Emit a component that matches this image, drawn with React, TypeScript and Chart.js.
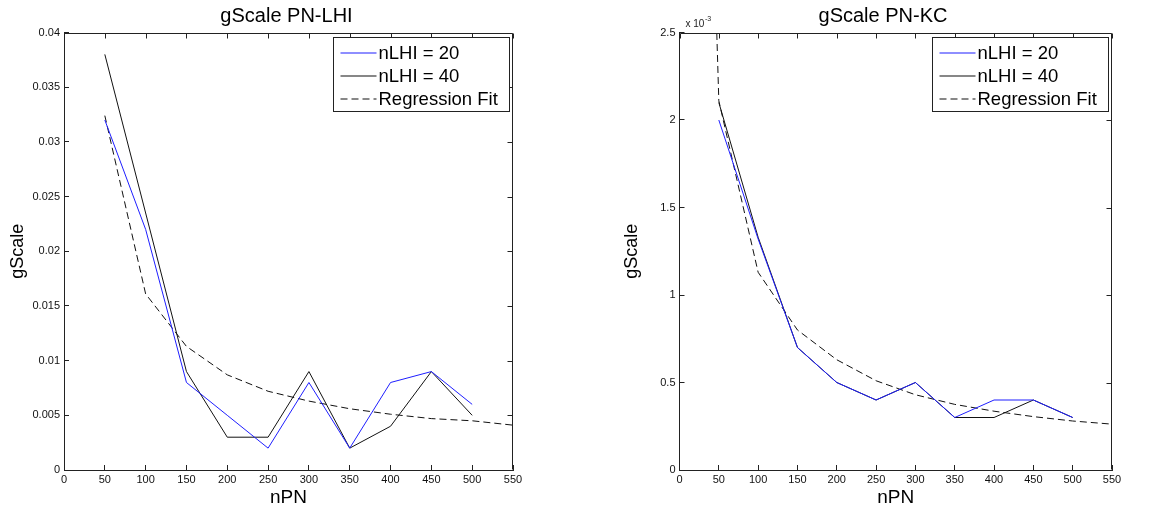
import React, { useEffect, useRef } from "react";
import { Chart, registerables } from "chart.js";

Chart.register(...registerables);

// ---- data ----
const nPN = [50, 100, 150, 200, 250, 300, 350, 400, 450, 500];
const fitNPN = [50, 100, 150, 200, 250, 300, 350, 400, 450, 500, 550];
const kcFitNPN = [47, 50, 100, 150, 200, 250, 300, 350, 400, 450, 500, 550];

// gScale PN-LHI
const lhiN20 = [0.032, 0.022, 0.008, 0.005, 0.002, 0.008, 0.002, 0.008, 0.009, 0.006];
const lhiN40 = [0.038, 0.0235, 0.009, 0.003, 0.003, 0.009, 0.002, 0.004, 0.009, 0.005];
const lhiFit = [0.0324, 0.0161, 0.0113, 0.0087, 0.0072, 0.0063, 0.0056, 0.0051, 0.0047, 0.0045, 0.0041];

// gScale PN-KC (values in units of 10^-3)
const kcN20 = [2.0, 1.32, 0.7, 0.5, 0.4, 0.5, 0.3, 0.4, 0.4, 0.3];
const kcN40 = [2.1, 1.33, 0.7, 0.5, 0.4, 0.5, 0.3, 0.3, 0.4, 0.3];
const kcFit = [2.56, 2.11, 1.13, 0.8, 0.63, 0.51, 0.43, 0.375, 0.336, 0.305, 0.28, 0.262];

const seriesLabels = ["nLHI = 20", "nLHI = 40", "Regression Fit"];
const titles = ["gScale PN-LHI", "gScale PN-KC"];
const xAxisTitle = "nPN";
const yAxisTitle = "gScale";
const exponentText = ["x 10", "-3"];

const X_MIN = 0;
const X_MAX = 550;
const X_STEP = 50;

const FONT = "'Liberation Sans', Arial, Helvetica, sans-serif";
const BLUE = "#1e1eff";
const BLACK = "#111111";
const seriesColors = [BLUE, BLACK, BLACK];
const seriesDashes: number[][] = [[], [], [7, 4]];

const toXY = (xs: number[], ys: number[]) => xs.map((x, i) => ({ x, y: ys[i] }));

const fmt = (v: number) => String(Number(Number(v).toFixed(4)));

const framePlugin = {
  id: "frame",
  afterDraw(chart: any, _args: any, opts: any) {
    const { ctx, chartArea: a } = chart;
    const xs = chart.scales.x;
    const ys = chart.scales.y;
    ctx.save();
    ctx.strokeStyle = "#222";
    ctx.lineWidth = 1;
    const L = Math.round(a.left) + 0.5;
    const R = Math.round(a.right) - 0.5;
    const T = Math.round(a.top) + 0.5;
    const B = Math.round(a.bottom) - 0.5;
    ctx.beginPath();
    ctx.moveTo(L, T);
    ctx.lineTo(R, T);
    ctx.lineTo(R, B);
    ctx.stroke();
    // mirrored inward ticks (top and right)
    ctx.beginPath();
    xs.ticks.forEach((t: any) => {
      const px = Math.round(xs.getPixelForValue(t.value)) + 0.5;
      ctx.moveTo(px, T);
      ctx.lineTo(px, T + 5);
    });
    ys.ticks.forEach((t: any) => {
      const py = Math.round(ys.getPixelForValue(t.value)) + 0.5;
      ctx.moveTo(R, py);
      ctx.lineTo(R - 5, py);
    });
    ctx.stroke();

    // exponent label
    if (opts && opts.exponent) {
      ctx.fillStyle = "#222";
      ctx.textBaseline = "alphabetic";
      ctx.textAlign = "left";
      ctx.font = `10px ${FONT}`;
      const ex = a.left + 6;
      const ey = a.top - 6;
      ctx.fillText(opts.exponent[0], ex, ey);
      const w = ctx.measureText(opts.exponent[0]).width;
      ctx.font = `7px ${FONT}`;
      ctx.fillText(opts.exponent[1], ex + w + 0.5, ey - 6);
    }

    // legend box
    const ds = chart.data.datasets;
    const boxW = 176;
    const rowH = 23;
    const boxH = rowH * ds.length + 5;
    const bx = Math.round(a.right - 4 - boxW) + 0.5;
    const by = Math.round(a.top + 4) + 0.5;
    ctx.fillStyle = "#fff";
    ctx.fillRect(bx, by, boxW, boxH);
    ctx.strokeStyle = "#222";
    ctx.setLineDash([]);
    ctx.strokeRect(bx, by, boxW, boxH);
    ctx.font = `18.5px ${FONT}`;
    ctx.textBaseline = "middle";
    ctx.textAlign = "left";
    ds.forEach((d: any, i: number) => {
      const cy = Math.round(by + 4 + rowH * i + rowH / 2);
      ctx.save();
      ctx.beginPath();
      ctx.strokeStyle = seriesColors[i];
      ctx.lineWidth = 1.2;
      ctx.setLineDash(seriesDashes[i]);
      ctx.moveTo(bx + 7, cy);
      ctx.lineTo(bx + 43, cy);
      ctx.stroke();
      ctx.restore();
      ctx.fillStyle = "#000";
      ctx.fillText(d.label, bx + 45, cy + 1);
    });
    ctx.restore();
  },
};

type Spec = {
  title: string;
  s20: number[];
  s40: number[];
  fitX: number[];
  fit: number[];
  yMax: number;
  yStep: number;
  yWidth: number;
  yTitlePad: number;
  rightGap: number;
  exponent?: string[];
};

function makeConfig(s: Spec): any {
  const series = [toXY(nPN, s.s20), toXY(nPN, s.s40), toXY(s.fitX, s.fit)];
  return {
    type: "line",
    data: {
      datasets: series.map((data, i) => ({
        label: seriesLabels[i],
        data,
        borderColor: seriesColors[i],
        borderDash: seriesDashes[i],
        borderWidth: 1,
        pointRadius: 0,
        fill: false,
        tension: 0,
      })),
    },
    options: {
      animation: false,
      responsive: false,
      devicePixelRatio: 1,
      layout: { padding: 0 },
      plugins: {
        legend: { display: false },
        tooltip: { enabled: false },
        title: {
          display: true,
          text: s.title,
          fullSize: true,
          color: "#000",
          font: { family: FONT, size: 20, weight: "normal" },
          padding: { top: 4, bottom: 4.5 },
        },
        frame: { exponent: s.exponent },
      },
      scales: {
        x: {
          type: "linear",
          min: X_MIN,
          max: X_MAX,
          grid: { drawOnChartArea: false, drawTicks: true, tickLength: -5, color: "#222" },
          border: { display: true, color: "#222" },
          ticks: {
            stepSize: X_STEP,
            autoSkip: false,
            maxRotation: 0,
            padding: 8,
            color: "#111",
            font: { family: FONT, size: 11 },
            callback: (v: number) => fmt(v),
          },
          title: {
            display: true,
            text: xAxisTitle,
            color: "#000",
            font: { family: FONT, size: 19 },
            padding: { top: 0, bottom: 6 },
          },
          afterFit: (sc: any) => {
            sc.height = 45;
          },
        },
        y: {
          type: "linear",
          min: 0,
          max: s.yMax,
          grid: { drawOnChartArea: false, drawTicks: true, tickLength: -5, color: "#222" },
          border: { display: true, color: "#222" },
          ticks: {
            stepSize: s.yStep,
            autoSkip: false,
            padding: 9,
            color: "#111",
            font: { family: FONT, size: 11 },
            callback: (v: number) => fmt(v),
          },
          title: {
            display: true,
            text: yAxisTitle,
            color: "#000",
            font: { family: FONT, size: 18 },
            padding: { top: s.yTitlePad, bottom: 0 },
          },
          afterFit: (sc: any) => {
            sc.width = s.yWidth;
          },
        },
        // empty spacer on the right so the title centres on the whole canvas
        spacer: {
          type: "linear",
          position: "right",
          display: true,
          grid: { display: false },
          border: { display: false },
          ticks: { display: false },
          afterFit: (sc: any) => {
            sc.width = s.rightGap;
          },
        },
      },
    },
    plugins: [framePlugin],
  };
}

function ChartCanvas({ spec, left, width }: { spec: Spec; left: number; width: number }) {
  const ref = useRef<HTMLCanvasElement | null>(null);
  useEffect(() => {
    if (!ref.current) return;
    const chart = new Chart(ref.current, makeConfig(spec));
    return () => chart.destroy();
  }, []);
  return (
    <canvas
      ref={ref}
      width={width}
      height={515}
      style={{ position: "absolute", left, top: 0, width, height: 515 }}
    />
  );
}

export default function App() {
  useEffect(() => {
    document.body.style.margin = "0";
    document.body.style.background = "#fff";
  }, []);
  // left canvas: 0..573, plot area 64..513
  const leftSpec: Spec = {
    title: titles[0],
    s20: lhiN20,
    s40: lhiN40,
    fitX: fitNPN,
    fit: lhiFit,
    yMax: 0.04,
    yStep: 0.005,
    yWidth: 64,
    yTitlePad: 7,
    rightGap: 573 - 513,
  };
  // right canvas: 606..1160, plot area 679.5..1112
  const rightSpec: Spec = {
    title: titles[1],
    s20: kcN20,
    s40: kcN40,
    fitX: kcFitNPN,
    fit: kcFit,
    yMax: 2.5,
    yStep: 0.5,
    yWidth: 73.5,
    yTitlePad: 15,
    rightGap: 554 - 506,
    exponent: exponentText,
  };
  return (
    <div style={{ position: "absolute", left: 0, top: 0, width: 1160, height: 515, background: "#fff", overflow: "hidden" }}>
      <ChartCanvas spec={leftSpec} left={0} width={573} />
      <ChartCanvas spec={rightSpec} left={606} width={554} />
    </div>
  );
}
